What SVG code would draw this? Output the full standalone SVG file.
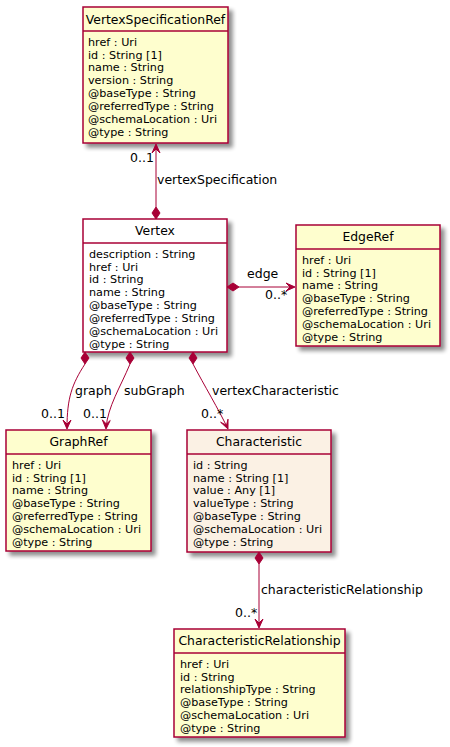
<svg xmlns="http://www.w3.org/2000/svg" width="450" height="747" viewBox="0 0 450 747">
<defs>
<filter id="sh" x="-10%" y="-10%" width="130%" height="130%">
<feGaussianBlur in="SourceAlpha" stdDeviation="2"/>
<feOffset dx="4" dy="4" result="b"/>
<feComponentTransfer><feFuncA type="linear" slope="0.45"/></feComponentTransfer>
<feMerge><feMergeNode/><feMergeNode in="SourceGraphic"/></feMerge>
</filter>
</defs>
<style>
.box{stroke:#A80036;stroke-width:1.5;filter:url(#sh)}
.ref{fill:#FEFECE}
.wh{fill:#FFFFFF}
.ch{fill:#FBF1E4}
.sep{stroke:#A80036;stroke-width:1.5}
.name{font-family:"DejaVu Sans",sans-serif;font-size:12.4px;fill:#000;text-anchor:middle}
.attr{font-family:"DejaVu Sans",sans-serif;font-size:11.2px;fill:#000}
.lbl{font-family:"DejaVu Sans",sans-serif;font-size:12.5px;fill:#000}
.ln{fill:none;stroke:#A80036;stroke-width:1}
.hd{fill:#A80036;stroke:#A80036;stroke-width:1}
</style>

<g id="VertexSpecificationRef">
<rect class="box ref" x="83" y="7" width="145" height="136"/>
<line class="sep" x1="83" y1="31" x2="228" y2="31"/>
<text class="name" x="155.5" y="24">VertexSpecificationRef</text>
<text class="attr" x="88" y="45.5">href : Uri</text>
<text class="attr" x="88" y="58.5">id : String [1]</text>
<text class="attr" x="88" y="71.4">name : String</text>
<text class="attr" x="88" y="84.4">version : String</text>
<text class="attr" x="88" y="97.3">@baseType : String</text>
<text class="attr" x="88" y="110.3">@referredType : String</text>
<text class="attr" x="88" y="123.2">@schemaLocation : Uri</text>
<text class="attr" x="88" y="136.2">@type : String</text>
</g>

<g id="Vertex">
<rect class="box wh" x="83" y="219" width="144" height="133"/>
<line class="sep" x1="83" y1="243" x2="227" y2="243"/>
<text class="name" x="155" y="235">Vertex</text>
<text class="attr" x="89" y="257.5">description : String</text>
<text class="attr" x="89" y="270.5">href : Uri</text>
<text class="attr" x="89" y="283.4">id : String</text>
<text class="attr" x="89" y="296.4">name : String</text>
<text class="attr" x="89" y="309.3">@baseType : String</text>
<text class="attr" x="89" y="322.3">@referredType : String</text>
<text class="attr" x="89" y="335.2">@schemaLocation : Uri</text>
<text class="attr" x="89" y="348.2">@type : String</text>
</g>

<g id="EdgeRef">
<rect class="box ref" x="296" y="225" width="144" height="121"/>
<line class="sep" x1="296" y1="249" x2="440" y2="249"/>
<text class="name" x="368" y="241">EdgeRef</text>
<text class="attr" x="302" y="263.5">href : Uri</text>
<text class="attr" x="302" y="276.5">id : String [1]</text>
<text class="attr" x="302" y="289.4">name : String</text>
<text class="attr" x="302" y="302.4">@baseType : String</text>
<text class="attr" x="302" y="315.3">@referredType : String</text>
<text class="attr" x="302" y="328.3">@schemaLocation : Uri</text>
<text class="attr" x="302" y="341.2">@type : String</text>
</g>

<g id="GraphRef">
<rect class="box ref" x="6" y="430" width="145" height="121"/>
<line class="sep" x1="6" y1="454" x2="151" y2="454"/>
<text class="name" x="78.5" y="446">GraphRef</text>
<text class="attr" x="12" y="468.5">href : Uri</text>
<text class="attr" x="12" y="481.5">id : String [1]</text>
<text class="attr" x="12" y="494.4">name : String</text>
<text class="attr" x="12" y="507.4">@baseType : String</text>
<text class="attr" x="12" y="520.3">@referredType : String</text>
<text class="attr" x="12" y="533.3">@schemaLocation : Uri</text>
<text class="attr" x="12" y="546.2">@type : String</text>
</g>

<g id="Characteristic">
<rect class="box ch" x="187" y="430" width="144" height="122"/>
<line class="sep" x1="187" y1="454" x2="331" y2="454"/>
<text class="name" x="259" y="446">Characteristic</text>
<text class="attr" x="193" y="468.5">id : String</text>
<text class="attr" x="193" y="481.5">name : String [1]</text>
<text class="attr" x="193" y="494.4">value : Any [1]</text>
<text class="attr" x="193" y="507.4">valueType : String</text>
<text class="attr" x="193" y="520.3">@baseType : String</text>
<text class="attr" x="193" y="533.3">@schemaLocation : Uri</text>
<text class="attr" x="193" y="546.2">@type : String</text>
</g>

<g id="CharacteristicRelationship">
<rect class="box ref" x="174" y="629" width="171" height="108"/>
<line class="sep" x1="174" y1="653" x2="345" y2="653"/>
<text class="name" x="259.5" y="645">CharacteristicRelationship</text>
<text class="attr" x="180" y="667.5">href : Uri</text>
<text class="attr" x="180" y="680.5">id : String</text>
<text class="attr" x="180" y="693.4">relationshipType : String</text>
<text class="attr" x="180" y="706.4">@baseType : String</text>
<text class="attr" x="180" y="719.3">@schemaLocation : Uri</text>
<text class="attr" x="180" y="732.2">@type : String</text>
</g>

<g id="connectors">
<!-- vertexSpecification -->
<line class="ln" x1="156" y1="145" x2="156" y2="207"/>
<polygon class="hd" points="156,219 152,213 156,207 160,213"/>
<polygon class="hd" points="156,144 152,153 156,149 160,153"/>
<text class="lbl" x="130" y="162">0..1</text>
<text class="lbl" x="157" y="184">vertexSpecification</text>
<!-- edge -->
<line class="ln" x1="239" y1="287" x2="294" y2="287"/>
<polygon class="hd" points="227,287 233,283 239,287 233,291"/>
<polygon class="hd" points="295,287 286,283 290,287 286,291"/>
<text class="lbl" x="247" y="278">edge</text>
<text class="lbl" x="265" y="299">0..*</text>
<!-- graph -->
<path class="ln" d="M85,364 C72,384 67,398 67,428"/>
<polygon class="hd" points="85,352 81,358 85,364 89,358"/>
<polygon class="hd" points="67,429 63,420 67,424 71,420"/>
<text class="lbl" x="75" y="395">graph</text>
<text class="lbl" x="41" y="418">0..1</text>
<!-- subGraph -->
<path class="ln" d="M130,364 C120,388 108,406 106,428"/>
<polygon class="hd" points="130,352 126,358 130,364 134,358"/>
<polygon class="hd" points="106,429 102.3,419.8 106.4,424 110.2,420.5"/>
<text class="lbl" x="124" y="395">subGraph</text>
<text class="lbl" x="83" y="418">0..1</text>
<!-- vertexCharacteristic -->
<path class="ln" d="M193,364 C204,385 219,410 227.5,428"/>
<polygon class="hd" points="193,352 189,358 193,364 197,358"/>
<polygon class="hd" points="228,429 220.6,422.2 226.5,425.3 228,419.2"/>
<text class="lbl" x="212" y="395">vertexCharacteristic</text>
<text class="lbl" x="201" y="418">0..*</text>
<!-- characteristicRelationship -->
<line class="ln" x1="259" y1="564" x2="259" y2="627"/>
<polygon class="hd" points="259,552 255,558 259,564 263,558"/>
<polygon class="hd" points="259,628 255,619 259,623 263,619"/>
<text class="lbl" x="261" y="594">characteristicRelationship</text>
<text class="lbl" x="235" y="617">0..*</text>
</g>
</svg>
